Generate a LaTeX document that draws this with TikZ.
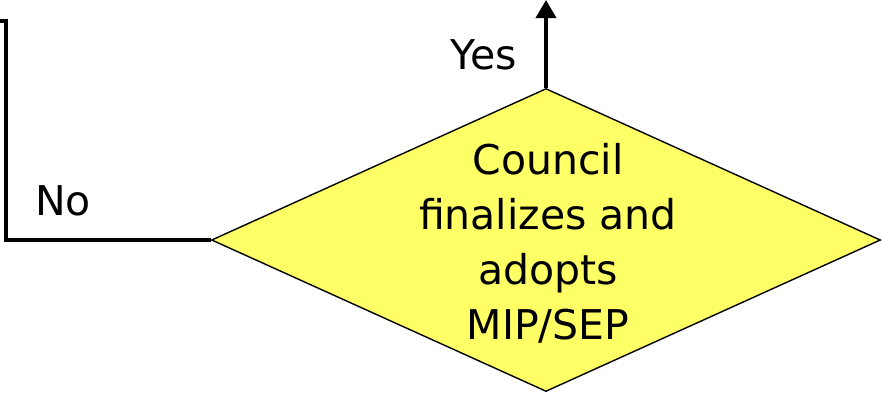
\documentclass[tikz,border=0pt]{standalone}
\usepackage{fontspec}
\setmainfont{DejaVu Sans}
\usetikzlibrary{shapes.geometric,arrows.meta}
\definecolor{dyellow}{HTML}{FFFF66}
\tikzset{
  decision/.style={draw=black, line width=1.4pt, fill=dyellow, shape=diamond, inner sep=0pt, minimum width=669pt, minimum height=303pt},
  label/.style={font=\fontsize{41}{55}\selectfont, inner sep=0pt, align=center},
  conn/.style={line width=3.6pt, black},
}
\begin{document}
\begin{tikzpicture}[x=1pt,y=-1pt]
\useasboundingbox (0,0) rectangle (882,392);
\node[decision] (d) at (546,240) {};
\node[label] (t) at (548,243) {Council\\finalizes and\\adopts\\MIP/SEP};
\coordinate (top) at (546,0);
\coordinate (c1) at (6,21);
\coordinate (c2) at (0,21);
\draw[conn, -{Triangle[length=18pt,width=20pt]}] (d.north) -- (top);
\draw[conn] (d.west) -| (c1) -- (c2);
\node[label] (yes) at (484,55) {Yes};
\node[label] (no) at (63,201) {No};
\end{tikzpicture}
\end{document}
